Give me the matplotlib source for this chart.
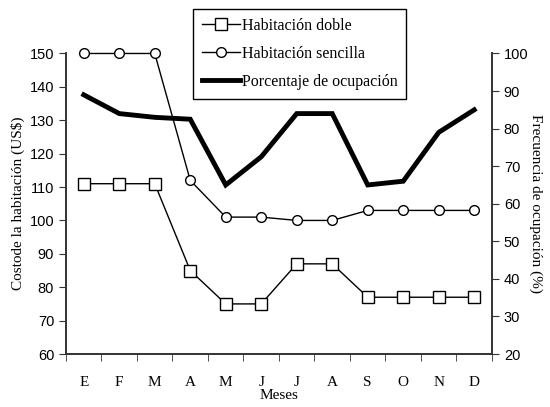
import numpy as np
import matplotlib.pyplot as plt
from matplotlib.ticker import FixedLocator

meses = ['E', 'F', 'M', 'A', 'M', 'J', 'J', 'A', 'S', 'O', 'N', 'D']
hab_doble = [111, 111, 111, 85, 75, 75, 87, 87, 77, 77, 77, 77]
hab_sencilla = [150, 150, 150, 112, 101, 101, 100, 100, 103, 103, 103, 103]
ocupacion = [89, 84, 83, 82.5, 65, 72.5, 84, 84, 65, 66, 79, 85]

serif = ['Liberation Serif', 'DejaVu Serif']
sans = ['Liberation Sans', 'DejaVu Sans']

fig = plt.figure(figsize=(5.5, 4.07), dpi=100)
ax = fig.add_axes([0.12, 0.1302, 0.7745, 0.7384])
ax2 = ax.twinx()

x = np.arange(len(meses))

l1, = ax.plot(x, hab_doble, color='black', linewidth=1, marker='s', markersize=8,
              markerfacecolor='white', markeredgecolor='black', markeredgewidth=1,
              label='Habitación doble', clip_on=False)
l2, = ax.plot(x, hab_sencilla, color='black', linewidth=1, marker='o', markersize=7,
              markerfacecolor='white', markeredgecolor='black', markeredgewidth=1,
              label='Habitación sencilla', clip_on=False)
l3, = ax2.plot(x, ocupacion, color='black', linewidth=3.5, solid_joinstyle='miter',
               label='Porcentaje de ocupación')

ax.set_xlim(-0.5, 11.5)
ax.set_ylim(60, 150)
ax2.set_ylim(20, 100)
ax.set_yticks(np.arange(60, 151, 10))
ax2.set_yticks(np.arange(20, 101, 10))

# month labels centred, tick marks on the boundaries
ax.set_xticks(x)
ax.set_xticklabels(meses, fontfamily=serif, fontsize=11)
ax.tick_params(axis='x', which='major', length=0, pad=16)
ax.xaxis.set_minor_locator(FixedLocator(np.arange(-0.5, 12, 1)))
ax.tick_params(axis='x', which='minor', length=5, direction='out', color='#333333')

for a in (ax, ax2):
    a.spines['top'].set_visible(False)
    for s in ('left', 'right', 'bottom'):
        a.spines[s].set_color('#333333')
        a.spines[s].set_linewidth(1.2)
    a.tick_params(axis='y', length=5, color='#333333', labelsize=10.5)
    for lab in a.get_yticklabels():
        lab.set_fontfamily(sans)

ax.set_xlabel('Meses', fontfamily=serif, fontsize=11, labelpad=0)
ax.set_ylabel('Costode la habitación (US$)', fontfamily=serif, fontsize=11, labelpad=3)
ax2.set_ylabel('Frecuencia de ocupación (%)', fontfamily=serif, fontsize=11,
               rotation=-90, labelpad=10)

ax2.set_zorder(ax.get_zorder() + 1)

leg = fig.legend(handles=[l1, l2, l3], loc='upper left',
                 bbox_to_anchor=(193 / 550, 1 - 9 / 407),
                 prop={'family': serif, 'size': 11.5}, fancybox=False,
                 edgecolor='black', framealpha=1, handlelength=2.4,
                 handletextpad=0.1, labelspacing=0.75, borderpad=0.55,
                 borderaxespad=0)
leg.get_frame().set_linewidth(1)

fig.savefig('out.png', dpi=100)
